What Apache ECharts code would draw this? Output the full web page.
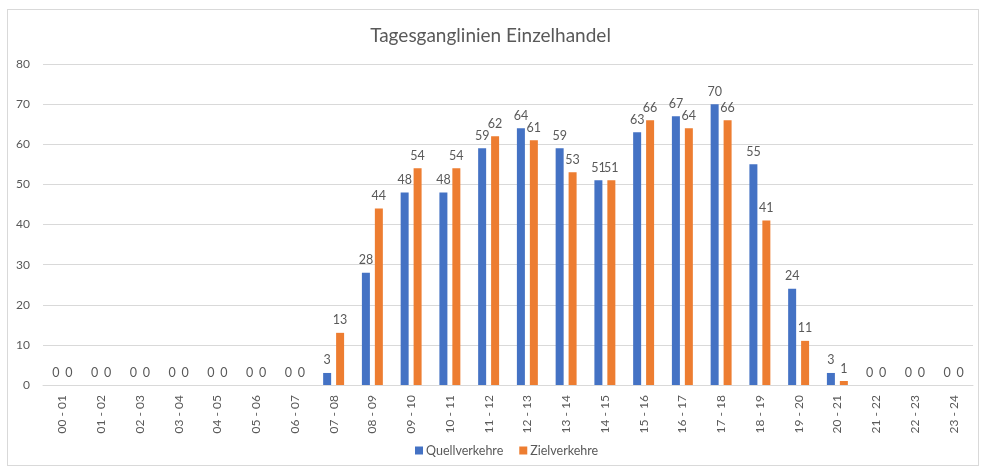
<!DOCTYPE html>
<html>
  <head>
    <meta charset="UTF-8">
    <title>Tagesganglinien Einzelhandel</title>
    <script src="https://cdn.jsdelivr.net/npm/echarts@6/dist/echarts.min.js"></script>
    <style type="text/css">
      html, body { margin:0; padding:0; background:#fff; }
      #frame {
        position:absolute; left:7px; top:9px;
        width:970px; height:455px;
        border:1px solid #d9d9d9;
      }
      #main { position:absolute; left:0; top:0; width:981px; height:470px; }
    </style>
  </head>
  <body>
    <div id="frame"></div>
    <div id="main"></div>
    <script>
      // Stunden-Intervalle
      var hours = ['00 - 01','01 - 02','02 - 03','03 - 04','04 - 05','05 - 06','06 - 07','07 - 08',
                   '08 - 09','09 - 10','10 - 11','11 - 12','12 - 13','13 - 14','14 - 15','15 - 16',
                   '16 - 17','17 - 18','18 - 19','19 - 20','20 - 21','21 - 22','22 - 23','23 - 24'];
      var quellverkehre = [0,0,0,0,0,0,0,3,28,48,48,59,64,59,51,63,67,70,55,24,3,0,0,0];
      var zielverkehre  = [0,0,0,0,0,0,0,13,44,54,54,62,61,53,51,66,64,66,41,11,1,0,0,0];
      var yTicks = { min: 0, max: 80, step: 10 };

      var txt = '#595959';
      var fnt = 'Lato, "Noto Sans", sans-serif';

      var myChart = echarts.init(document.getElementById('main'), null, { renderer: 'canvas' });
      var option = {
        animation: false,
        textStyle: { fontFamily: fnt },
        title: {
          text: 'Tagesganglinien Einzelhandel',
          left: 'center',
          top: 21,
          textStyle: { fontFamily: fnt, fontSize: 19, fontWeight: 'normal', color: txt }
        },
        legend: {
          bottom: 8,
          left: 410,
          itemWidth: 8,
          itemHeight: 8,
          itemGap: 16,
          icon: 'rect',
          textStyle: { fontFamily: fnt, fontSize: 12.5, color: txt, padding: [0, 0, 0, -2] },
          data: ['Quellverkehre', 'Zielverkehre']
        },
        grid: { left: 43, right: 8, top: 64, bottom: 85, containLabel: false },
        xAxis: {
          type: 'category',
          data: hours,
          axisLine: { lineStyle: { color: '#d9d9d9' } },
          axisTick: { show: false },
          axisLabel: { rotate: 90, color: txt, fontSize: 12, fontFamily: fnt, margin: 10, interval: 0 }
        },
        yAxis: {
          type: 'value',
          min: yTicks.min,
          max: yTicks.max,
          interval: yTicks.step,
          axisLine: { show: false },
          axisTick: { show: false },
          splitLine: { lineStyle: { color: '#d9d9d9' } },
          axisLabel: { color: txt, fontSize: 12, fontFamily: fnt, margin: 13 }
        },
        series: [
          {
            name: 'Quellverkehre',
            type: 'bar',
            data: quellverkehre,
            barWidth: 8,
            barGap: '62%',
            itemStyle: { color: '#4472C4' },
            label: { show: true, position: 'top', color: txt, fontSize: 12.5, fontFamily: fnt, distance: 6 }
          },
          {
            name: 'Zielverkehre',
            type: 'bar',
            data: zielverkehre,
            barWidth: 8,
            itemStyle: { color: '#ED7D31' },
            label: { show: true, position: 'top', color: txt, fontSize: 12.5, fontFamily: fnt, distance: 6 }
          }
        ]
      };
      myChart.setOption(option);
    </script>
  </body>
</html>
